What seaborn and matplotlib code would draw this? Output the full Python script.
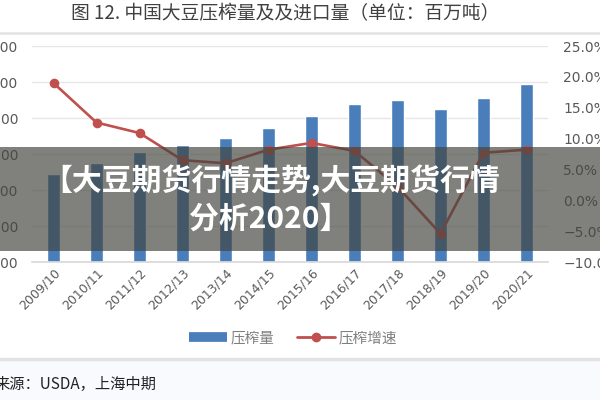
#soybean crush volume (bars) and crush growth rate (line) with the overlay banner

#import packages
import numpy as np
import pandas as pd
import matplotlib
matplotlib.use('Agg')
from matplotlib import pyplot as plt
from matplotlib.lines import Line2D
from matplotlib.patches import Rectangle
import matplotlib.ticker as mtick
import seaborn as sns

#data
seasons = ['2009/10', '2010/11', '2011/12', '2012/13', '2013/14', '2014/15',
           '2015/16', '2016/17', '2017/18', '2018/19', '2019/20', '2020/21']
crush = [48.7, 54.8, 60.9, 65.0, 68.7, 74.3, 81.3, 87.8, 89.8, 84.8, 90.9, 98.7]  #百万吨
growth = [19.0, 12.6, 10.9, 6.5, 6.0, 8.2, 9.3, 8.0, 2.2, -5.4, 7.7, 8.2]  #%
left_ticks = [0, 20, 40, 60, 80, 100, 120]
right_ticks = [-10, -5, 0, 5, 10, 15, 20, 25]

title = '图 12. 中国大豆压榨量及及进口量（单位：百万吨）'
legend_labels = ['压榨量', '压榨增速']
source = '来源：USDA，上海中期'
banner = ['【大豆期货行情走势,大豆期货行情', '分析2020】']

df = pd.DataFrame({'season': seasons, 'crush': crush, 'growth': growth})

sns.set_theme(style='white')
plt.rcParams['font.family'] = ['Noto Sans CJK SC', 'DejaVu Sans']

bar_color = '#4a7ebb'
line_color = '#c0504d'
tick_color = '#595959'

fig = plt.figure(figsize=(6, 4), dpi=100)
ax = fig.add_axes([32/600, 1 - 262/400, 516/600, 216/400])
ax2 = ax.twinx()

#bars
sns.barplot(data=df, x='season', y='crush', color=bar_color, saturation=1,
            width=0.3, ax=ax, zorder=2)
#line on the secondary axis
sns.pointplot(data=df, x='season', y='growth', color=line_color, markers='o',
              markersize=5.5, linewidth=1.9, ax=ax2, zorder=3)

ax.set_xlim(-0.5, len(seasons) - 0.5)
ax.set_ylim(0, 120)
ax.set_yticks(left_ticks)
ax.yaxis.set_major_formatter(mtick.FormatStrFormatter('%.2f'))
ax2.set_ylim(-10, 25)
ax2.set_yticks(right_ticks)
ax2.yaxis.set_major_formatter(mtick.PercentFormatter(decimals=1))

ax.set(xlabel='', ylabel='')
ax2.set(xlabel='', ylabel='')
ax.grid(axis='y', color='#e6e6e6', linewidth=1)
ax.set_axisbelow(True)
for a in (ax, ax2):
    for s in a.spines.values():
        s.set_visible(False)
ax.spines['bottom'].set_visible(True)
ax.spines['bottom'].set_color('#d9d9d9')

ax.tick_params(axis='y', length=0, pad=10, labelsize=10, labelcolor=tick_color)
ax2.tick_params(axis='y', length=0, pad=11, labelsize=10, labelcolor=tick_color)
ax.tick_params(axis='x', which='major', length=0, pad=3, labelsize=9, labelcolor=tick_color)
ax.set_xticks(np.arange(-0.5, len(seasons), 1), minor=True)
ax.tick_params(axis='x', which='minor', length=4, color='#d9d9d9', width=1)
plt.setp(ax.get_xticklabels(), rotation=45, ha='right', rotation_mode='anchor',
         family='DejaVu Sans')
plt.setp(ax.get_yticklabels() + ax2.get_yticklabels(), family='DejaVu Sans')

#legend
handles = [Line2D([], [], color=bar_color, linewidth=7, solid_capstyle='butt'),
           Line2D([], [], color=line_color, linewidth=2, marker='o', markersize=6)]
fig.legend(handles, legend_labels, loc='center', bbox_to_anchor=(293/600, 1 - 338/400),
           ncol=2, frameon=False, fontsize=10.5, handlelength=2.6, columnspacing=1.5,
           handletextpad=0.3, labelcolor='#7f7f7f')

#title and separators
fig.text(285/600, 1 - 14/400, title, ha='center', va='center', fontsize=13.5,
         color='#404040')
fig.add_artist(Line2D([0, 1], [1 - 33/400, 1 - 33/400], transform=fig.transFigure,
                      color='#e3e3e3', linewidth=1.8))
fig.add_artist(Rectangle((0, 0), 1, 1 - 361/400, transform=fig.transFigure,
                         facecolor='#f8fafd', edgecolor='none', zorder=-1))
fig.add_artist(Line2D([0, 1], [1 - 359/400, 1 - 359/400], transform=fig.transFigure,
                      color='#e3e3e3', linewidth=2.5))
fig.text(-6/600, 1 - 384/400, source, ha='left', va='center', fontsize=11,
         color='#222222')

#dark banner over the plot
fig.add_artist(Rectangle((0, 1 - 251/400), 1, 104/400, transform=fig.transFigure,
                         facecolor='#42443c', alpha=0.67, edgecolor='none', zorder=10))
fig.text(271/600, 1 - 181/400, banner[0], ha='center', va='center', fontsize=21.5,
         fontweight='bold', color='white', zorder=11)
fig.text(269/600, 1 - 219/400, banner[1], ha='center', va='center', fontsize=21.5,
         fontweight='bold', color='white', zorder=11)

fig.savefig('out.png', dpi=100)
